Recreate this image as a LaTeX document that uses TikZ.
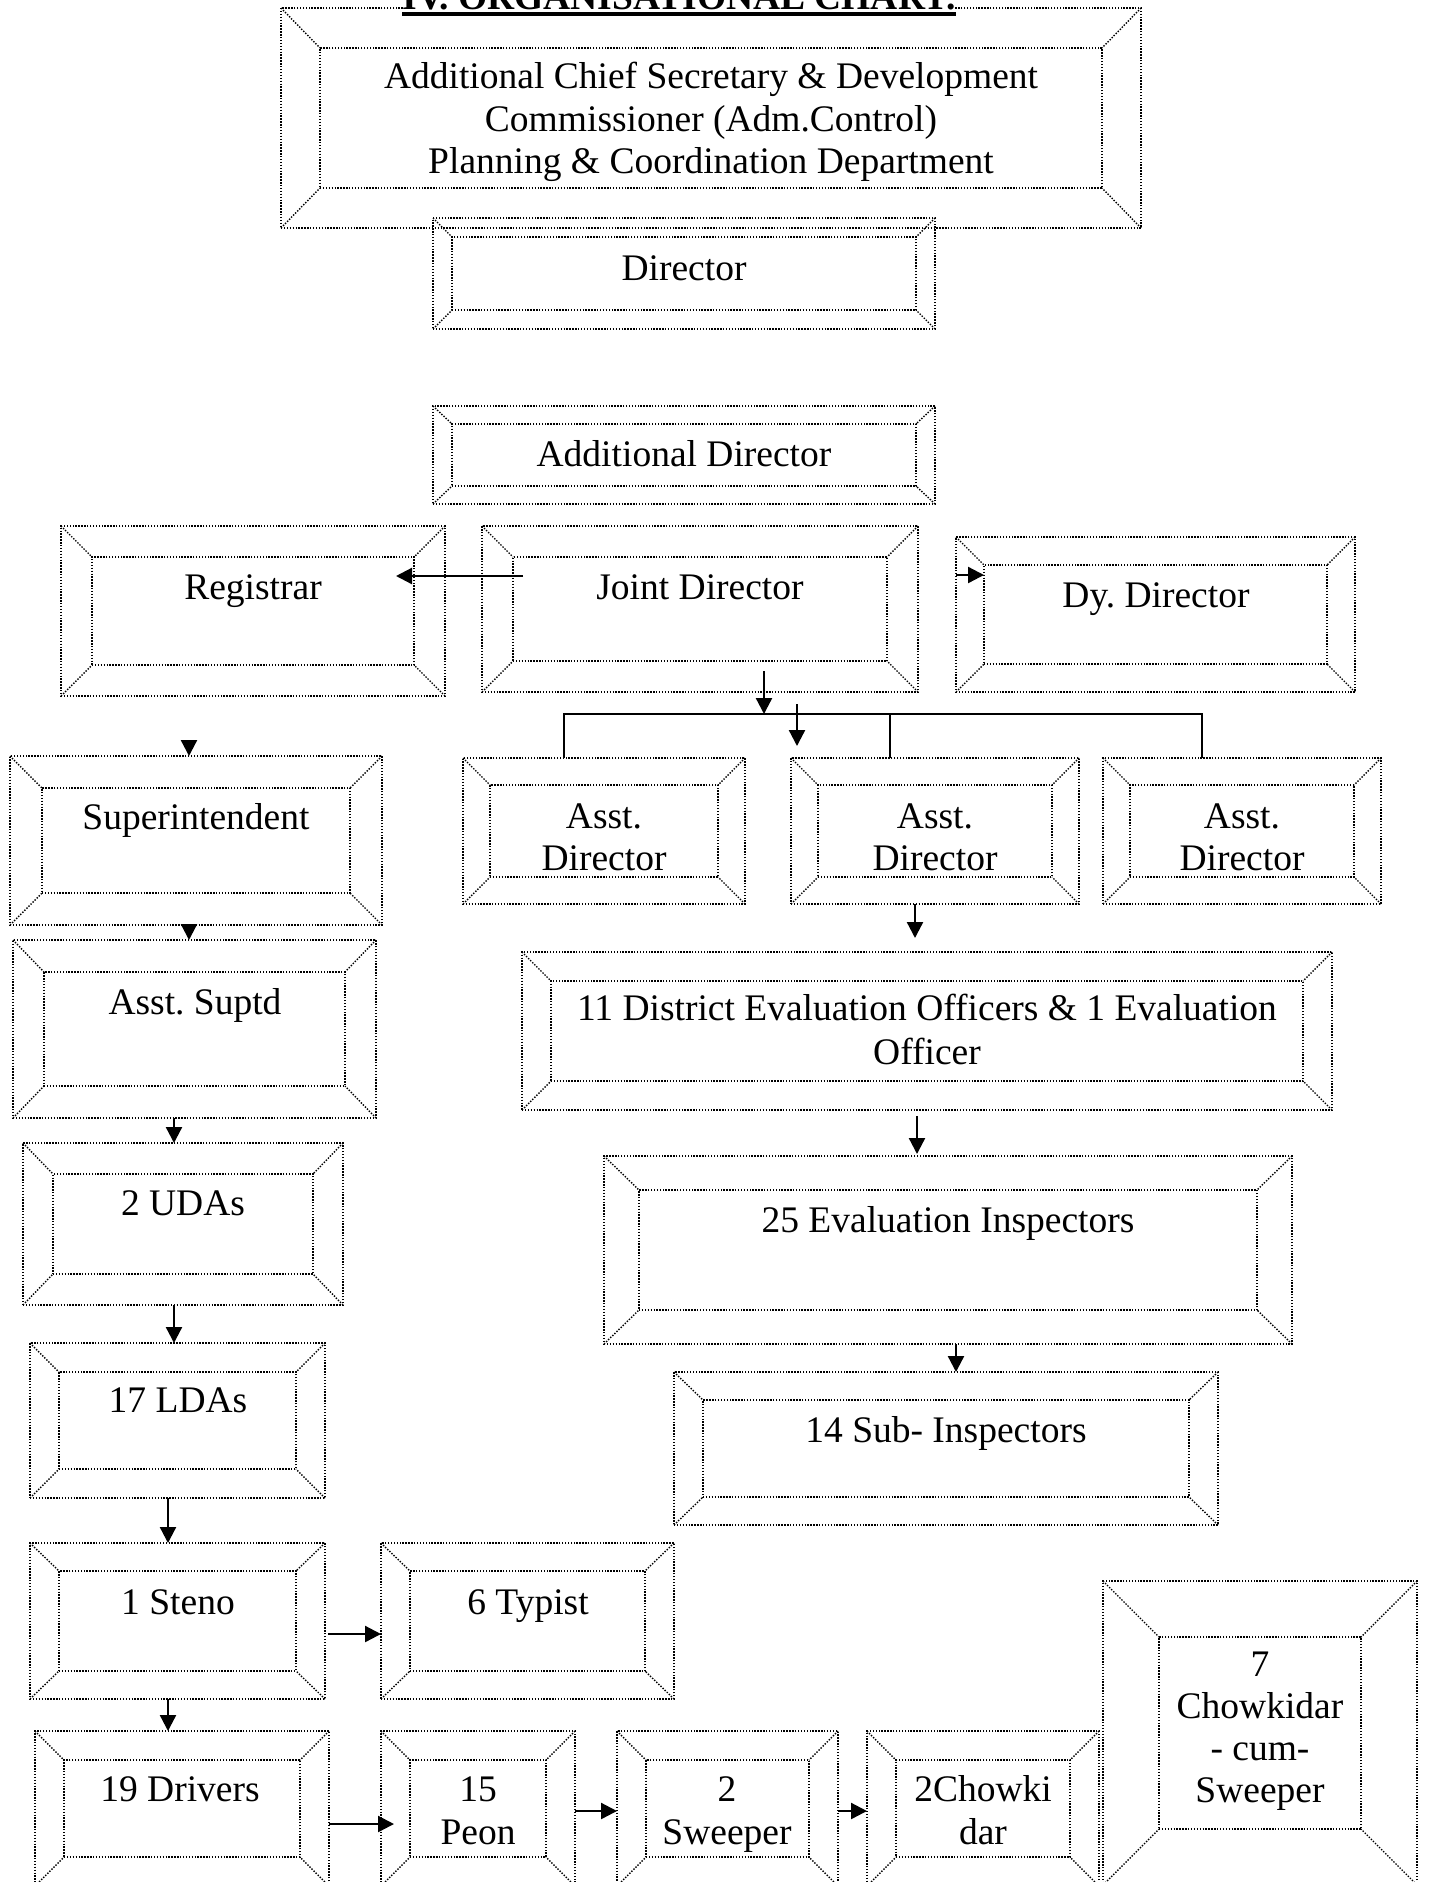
\documentclass[tikz,border=0pt]{standalone}
\usepackage{fontspec}
\setmainfont{Liberation Serif}
\usetikzlibrary{arrows.meta}
\frenchspacing
\tikzset{
  dots/.style={line width=1.4pt, dash pattern=on 1.4pt off 1.5pt, line cap=butt},
  bevout/.style={dots, draw, rectangle, inner sep=0pt, outer sep=0pt},
  txt/.style={anchor=base, inner sep=0pt, font=\fontsize{37.5}{43}\selectfont},
  arr/.style={line width=2.3pt, -{Triangle[length=16pt,width=16pt]}},
  bus/.style={line width=2pt},
}
\newcommand\bev[7]{%
  \pgfmathsetmacro\bw{#4-#2}\pgfmathsetmacro\bh{#5-#3}%
  \pgfmathsetmacro\bcx{(#2+#4)/2}\pgfmathsetmacro\bcy{(#3+#5)/2}%
  \pgfmathsetmacro\iw{#4-#2-2*#6}\pgfmathsetmacro\ih{#5-#3-2*#7}%
  \node[bevout, minimum width=\bw pt, minimum height=\bh pt] (#1) at (\bcx,\bcy) {};
  \node[bevout, minimum width=\iw pt, minimum height=\ih pt] (#1-in) at (\bcx,\bcy) {};
  \draw[dots] (#1.north west) -- (#1-in.north west) (#1.north east) -- (#1-in.north east)
    (#1.south west) -- (#1-in.south west) (#1.south east) -- (#1-in.south east);
}
\begin{document}
\begin{tikzpicture}[x=1pt,y=-1pt]
\useasboundingbox (0,0) rectangle (1429,1882);
\fill[white] (0,0) rectangle (1429,1882);
\clip (0,0) rectangle (1429,1882);

% boxes
\bev{acs}{281}{8}{1141}{228}{39}{40}
\bev{dir}{433}{218}{935}{329}{19}{19}
\bev{add}{433}{406}{935}{504}{19}{18}
\bev{reg}{61}{526}{445}{696}{31}{31}
\bev{jd}{482}{526}{918}{692}{31}{31}
\bev{dy}{956}{537}{1355}{692}{28}{28}
\bev{supt}{10}{756}{382}{925}{32}{32}
\bev{ad1}{463}{758}{745}{904}{27}{27}
\bev{ad2}{791}{758}{1079}{904}{27}{27}
\bev{ad3}{1103}{758}{1381}{904}{27}{27}
\bev{asup}{13}{940}{376}{1118}{31}{32}
\bev{deo}{522}{952}{1332}{1110}{29}{29}
\bev{uda}{23}{1143}{343}{1305}{30}{31}
\bev{ei}{604}{1156}{1292}{1344}{35}{34}
\bev{lda}{30}{1343}{325}{1498}{29}{29}
\bev{si}{674}{1372}{1218}{1525}{29}{28}
\bev{steno}{30}{1543}{325}{1699}{29}{28}
\bev{typ}{381}{1543}{674}{1699}{29}{28}
\bev{drv}{35}{1731}{329}{1886}{29}{29}
\bev{peon}{381}{1731}{575}{1886}{29}{29}
\bev{swp}{617}{1731}{838}{1886}{29}{29}
\bev{chk}{867}{1731}{1099}{1886}{29}{29}
\bev{ccs}{1103}{1581}{1417}{1885}{56}{56}

% title
\node[txt, fill=white, font=\fontsize{37.5}{43}\selectfont\bfseries] (title) at (679,9) {IV. ORGANISATIONAL CHART.};
\draw[line width=4pt] ([yshift=-4.5pt]title.base west) -- ([yshift=-4.5pt]title.base east);

% texts
\node[txt] (t-acs1) at (711,88) {Additional Chief Secretary \& Development};
\node[txt] (t-acs2) at (711,131) {Commissioner (Adm.Control)};
\node[txt] (t-acs3) at (711,173) {Planning \& Coordination Department};
\node[txt] (t-dir) at (684,280) {Director};
\node[txt] (t-add) at (684,466) {Additional Director};
\node[txt] (t-reg) at (253,599) {Registrar};
\node[txt] (t-jd) at (700,599) {Joint Director};
\node[txt] (t-dy) at (1156,607) {Dy. Director};
\node[txt] (t-supt) at (196,829) {Superintendent};
\node[txt] (t-ad1a) at (604,828) {Asst.};
\node[txt] (t-ad1b) at (604,870) {Director};
\node[txt] (t-ad2a) at (935,828) {Asst.};
\node[txt] (t-ad2b) at (935,870) {Director};
\node[txt] (t-ad3a) at (1242,828) {Asst.};
\node[txt] (t-ad3b) at (1242,870) {Director};
\node[txt] (t-asup) at (195,1014) {Asst. Suptd};
\node[txt] (t-deo1) at (927,1020) {11 District Evaluation Officers \& 1 Evaluation};
\node[txt] (t-deo2) at (927,1064) {Officer};
\node[txt] (t-uda) at (183,1215) {2 UDAs};
\node[txt] (t-ei) at (948,1232) {25 Evaluation Inspectors};
\node[txt] (t-lda) at (178,1412) {17 LDAs};
\node[txt] (t-si) at (946,1442) {14 Sub- Inspectors};
\node[txt] (t-steno) at (178,1614) {1 Steno};
\node[txt] (t-typ) at (528,1614) {6 Typist};
\node[txt] (t-drv) at (180,1801) {19 Drivers};
\node[txt] (t-peon1) at (478,1801) {15};
\node[txt] (t-peon2) at (478,1844) {Peon};
\node[txt] (t-swp1) at (727,1801) {2};
\node[txt] (t-swp2) at (727,1844) {Sweeper};
\node[txt] (t-chk1) at (983,1801) {2Chowki};
\node[txt] (t-chk2) at (983,1844) {dar};
\node[txt] (t-ccs1) at (1260,1676) {7};
\node[txt] (t-ccs2) at (1260,1718) {Chowkidar};
\node[txt] (t-ccs3) at (1260,1760) {- cum-};
\node[txt] (t-ccs4) at (1260,1802) {Sweeper};

% connectors
\coordinate (busL) at (564,714);
\coordinate (busM) at (890,714);
\coordinate (busR) at (1202,714);
\draw[arr, shorten <=-10pt, shorten >=-18pt] (jd-in.west |- 0,576) -- (reg-in.east |- 0,576);
\draw[arr, shorten <=38pt] (jd.east |- 0,575) -- (dy-in.west |- 0,575);
\draw[arr, shorten <=10pt] (jd-in.south -| 764,0) -- (busL -| 764,0);
\draw[bus] (ad1.north -| busL) -- (busL) -- (busR) -- (ad3.north -| busR);
\draw[bus] (busM) -- (ad2.north -| busM);
\draw[arr, shorten <=-10pt, shorten >=12pt] (busL -| 797,0) -- (ad2.north -| 797,0);
\draw[arr, shorten >=14pt] (ad2.south -| 915,0) -- (deo.north -| 915,0);
\draw[arr, shorten <=6pt, shorten >=2pt] (deo.south -| 917,0) -- (ei.north -| 917,0);
\draw[arr] (ei.south -| 956,0) -- (si.north -| 956,0);

\draw[arr, shorten <=45pt] (reg.south -| 189,0) -- (supt.north -| 189,0);
\draw[arr] (supt.south -| 189,0) -- (asup.north -| 189,0);
\draw[arr] (asup.south -| 174,0) -- (uda.north -| 174,0);
\draw[arr] (uda.south -| 174,0) -- (lda.north -| 174,0);
\draw[arr] (lda.south -| 168,0) -- (steno.north -| 168,0);
\draw[arr] (steno.south -| 168,0) -- (drv.north -| 168,0);
\draw[arr, shorten <=3pt] (steno.east |- 0,1634) -- (typ.west |- 0,1634);
\draw[arr, shorten >=-13pt] (drv.east |- 0,1824) -- (peon.west |- 0,1824);
\draw[arr] (peon.east |- 0,1811) -- (swp.west |- 0,1811);
\draw[arr] (swp.east |- 0,1811) -- (chk.west |- 0,1811);
\end{tikzpicture}
\end{document}
